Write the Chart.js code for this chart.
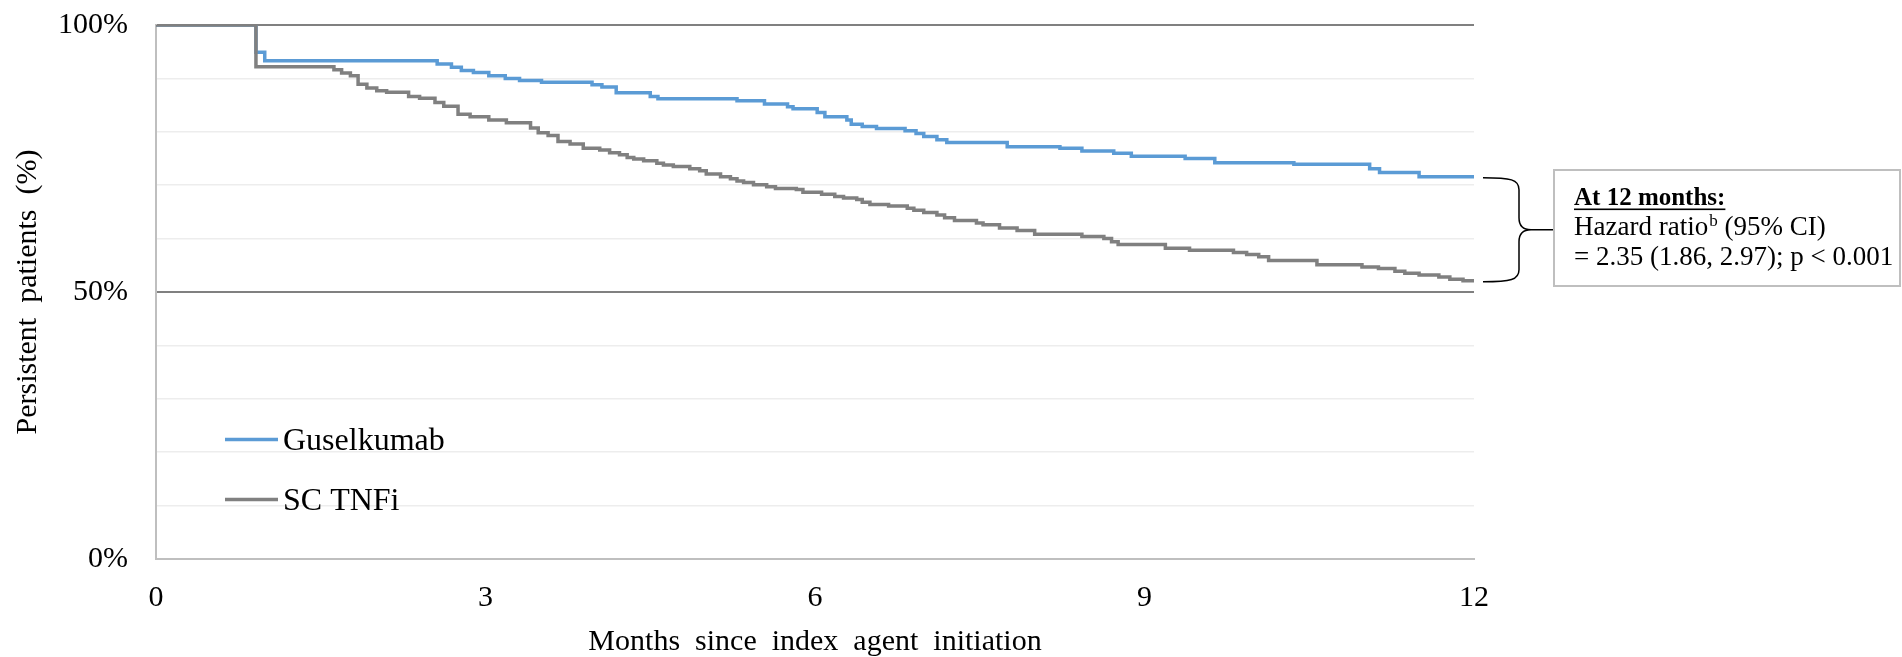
<!DOCTYPE html>
<html><head><meta charset="utf-8">
<script src="https://cdn.jsdelivr.net/npm/chart.js@4"></script>
<style>html,body{margin:0;padding:0;background:#fff;} canvas{display:block}</style>
</head><body>
<canvas id="c" width="1902" height="657"></canvas>
<script>
// ---- Data ----
const seriesNames = ['Guselkumab', 'SC TNFi'];
const guselMonths = [0, 0.91, 0.99, 2.56, 2.69, 2.78, 2.89, 3.03, 3.18, 3.31, 3.51, 3.97, 4.06, 4.19, 4.50, 4.57, 5.29, 5.54, 5.75, 5.80, 6.02, 6.09, 6.29, 6.33, 6.43, 6.56, 6.82, 6.92, 6.99, 7.11, 7.20, 7.75, 8.23, 8.43, 8.72, 8.88, 9.37, 9.64, 10.36, 11.05, 11.14, 11.50, 12];
const guselValues = [100, 94.9, 93.3, 92.7, 92.1, 91.5, 91.1, 90.5, 90.0, 89.6, 89.3, 88.8, 88.4, 87.3, 86.6, 86.2, 85.8, 85.2, 84.7, 84.3, 83.6, 82.8, 82.2, 81.4, 81.0, 80.6, 80.2, 79.7, 79.1, 78.5, 78.0, 77.2, 76.9, 76.4, 76.0, 75.4, 75.0, 74.2, 73.9, 73.1, 72.4, 71.6, 71.6];
const tnfiMonths = [0, 0.91, 1.62, 1.69, 1.77, 1.84, 1.92, 2.01, 2.10, 2.30, 2.40, 2.54, 2.62, 2.75, 2.86, 3.03, 3.19, 3.41, 3.48, 3.57, 3.66, 3.77, 3.89, 4.04, 4.13, 4.22, 4.29, 4.35, 4.44, 4.56, 4.62, 4.71, 4.86, 4.95, 5.01, 5.14, 5.23, 5.29, 5.35, 5.44, 5.56, 5.64, 5.83, 5.89, 6.06, 6.18, 6.26, 6.38, 6.43, 6.50, 6.67, 6.84, 6.90, 6.99, 7.11, 7.18, 7.27, 7.47, 7.53, 7.68, 7.84, 8.00, 8.43, 8.63, 8.70, 8.76, 9.19, 9.41, 9.81, 9.93, 10.04, 10.13, 10.57, 10.98, 11.13, 11.28, 11.37, 11.50, 11.68, 11.78, 11.90, 12];
const tnfiValues = [100, 92.2, 91.6, 91.0, 90.5, 88.9, 88.2, 87.7, 87.4, 86.6, 86.3, 85.5, 84.8, 83.3, 82.8, 82.2, 81.7, 80.7, 79.8, 79.3, 78.2, 77.7, 76.9, 76.6, 76.1, 75.7, 75.2, 74.9, 74.6, 74.1, 73.8, 73.5, 73.1, 72.7, 72.1, 71.6, 71.2, 70.8, 70.5, 70.1, 69.7, 69.4, 69.2, 68.7, 68.3, 67.9, 67.6, 67.3, 66.8, 66.4, 66.1, 65.7, 65.3, 64.9, 64.4, 63.9, 63.4, 62.9, 62.6, 62.0, 61.5, 60.8, 60.4, 60.0, 59.4, 58.9, 58.2, 57.8, 57.4, 57.0, 56.6, 55.9, 55.1, 54.7, 54.4, 53.9, 53.5, 53.2, 52.8, 52.4, 52.1, 52.1];
const xTicks = [0, 3, 6, 9, 12];
const yLabelTicks = [0, 50, 100];
const yRefLines = [50, 100];
const xTitle = 'Months  since  index  agent  initiation';
const yTitle = 'Persistent  patients  (%)';
const annotTitle = 'At 12 months:';
const annotLine2 = ['Hazard ratio', 'b', ' (95% CI)'];
const annotLine3 = '= 2.35 (1.86, 2.97); p < 0.001';

const FONT = '"Liberation Serif", "Times New Roman", serif';
Chart.defaults.font.family = FONT;
Chart.defaults.color = '#000';

const toPts = (xs, ys) => xs.map((x, i) => ({x: x, y: ys[i]}));

const overlay = {
  id: 'overlay',
  afterDraw(chart) {
    const ctx = chart.ctx;
    const xs = chart.scales.x, ys = chart.scales.y;
    ctx.save();
    // legend
    chart.data.datasets.forEach((ds, i) => {
      const y = 439.5 + i * 60;
      ctx.strokeStyle = ds.borderColor;
      ctx.lineWidth = 3.5;
      ctx.beginPath(); ctx.moveTo(225, y); ctx.lineTo(278, y); ctx.stroke();
      ctx.fillStyle = '#000';
      ctx.font = '32px ' + FONT;
      ctx.textBaseline = 'alphabetic';
      ctx.textAlign = 'left';
      ctx.fillText(ds.label, 283, y + 10);
    });
    // bracket
    const xEnd = xs.getPixelForValue(12);
    const yTop = ys.getPixelForValue(guselValues[guselValues.length - 1]) + 1;
    const yBot = ys.getPixelForValue(tnfiValues[tnfiValues.length - 1]) + 1;
    const mid = (yTop + yBot) / 2;
    const bl = xEnd + 9, sp = xEnd + 45, tip = xEnd + 80, r = 12;
    ctx.strokeStyle = '#000'; ctx.lineWidth = 1.5;
    ctx.beginPath();
    ctx.moveTo(bl, yTop);
    ctx.bezierCurveTo(sp - 8, yTop, sp, yTop + 2, sp, yTop + r);
    ctx.lineTo(sp, mid - r);
    ctx.quadraticCurveTo(sp, mid, sp + r, mid);
    ctx.lineTo(tip, mid);
    ctx.moveTo(sp + r, mid);
    ctx.quadraticCurveTo(sp, mid, sp, mid + r);
    ctx.lineTo(sp, yBot - r);
    ctx.bezierCurveTo(sp, yBot - 2, sp - 8, yBot, bl, yBot);
    ctx.stroke();
    // box
    ctx.fillStyle = '#fff';
    ctx.fillRect(1554, 170, 346, 116);
    ctx.strokeStyle = '#bfbfbf'; ctx.lineWidth = 2;
    ctx.strokeRect(1554, 170, 346, 116);
    ctx.fillStyle = '#000';
    ctx.textAlign = 'left'; ctx.textBaseline = 'alphabetic';
    ctx.font = 'bold 25px ' + FONT;
    ctx.fillText(annotTitle, 1574, 205);
    const tw = ctx.measureText(annotTitle).width;
    ctx.fillRect(1574, 208.5, tw, 1.6);
    ctx.font = '27px ' + FONT;
    let x = 1574;
    ctx.fillText(annotLine2[0], x, 235);
    x += ctx.measureText(annotLine2[0]).width + 1;
    ctx.font = '17px ' + FONT;
    ctx.fillText(annotLine2[1], x, 226);
    x += ctx.measureText(annotLine2[1]).width;
    ctx.font = '27px ' + FONT;
    ctx.fillText(annotLine2[2], x, 235);
    ctx.fillText(annotLine3, 1574, 265);
    ctx.restore();
  }
};

new Chart(document.getElementById('c').getContext('2d'), {
  type: 'line',
  data: {
    datasets: [
      {label: seriesNames[0], data: toPts(guselMonths, guselValues), borderColor: '#5b9bd5', borderWidth: 3.5, pointRadius: 0, stepped: true, fill: false, order: 1},
      {label: seriesNames[1], data: toPts(tnfiMonths, tnfiValues), borderColor: '#808080', borderWidth: 3.5, pointRadius: 0, stepped: true, fill: false, order: 0}
    ]
  },
  options: {
    responsive: false,
    animation: false,
    devicePixelRatio: 1,
    layout: {padding: {top: 25, right: 428, bottom: 0, left: 0}},
    plugins: {legend: {display: false}, tooltip: {enabled: false}},
    scales: {
      x: {
        type: 'linear', min: 0, max: 12,
        afterFit(s) { s.height = 98; },
        afterBuildTicks(s) { s.ticks = xTicks.map(v => ({value: v})); },
        ticks: {font: {size: 30}, padding: 21, autoSkip: false, maxRotation: 0, color: '#000'},
        grid: {display: true, color: 'rgba(0,0,0,0)', drawTicks: false},
        border: {display: true, color: '#bfbfbf', width: 2},
        title: {display: true, text: xTitle, font: {size: 30, lineHeight: 1}, padding: {top: 0, bottom: 0}, color: '#000'}
      },
      y: {
        min: 0, max: 100,
        afterFit(s) { s.width = 156; },
        ticks: {stepSize: 10, autoSkip: false, padding: 7, font: {size: 30}, color: '#000',
          callback: v => yLabelTicks.includes(v) ? v + '%' : ''},
        grid: {
          drawTicks: true, tickLength: 21, tickColor: 'rgba(0,0,0,0)',
          color: c => yRefLines.includes(c.tick.value) ? '#808080' : (c.tick.value === 0 ? '#bfbfbf' : '#ededed'),
          lineWidth: c => (yRefLines.includes(c.tick.value) || c.tick.value === 0) ? 2 : 1.5
        },
        border: {display: true, color: '#bfbfbf', width: 2},
        title: {display: true, text: yTitle, font: {size: 30, lineHeight: 1}, padding: {top: 13, bottom: 0}, color: '#000'}
      }
    }
  },
  plugins: [overlay]
});
</script>
</body></html>
